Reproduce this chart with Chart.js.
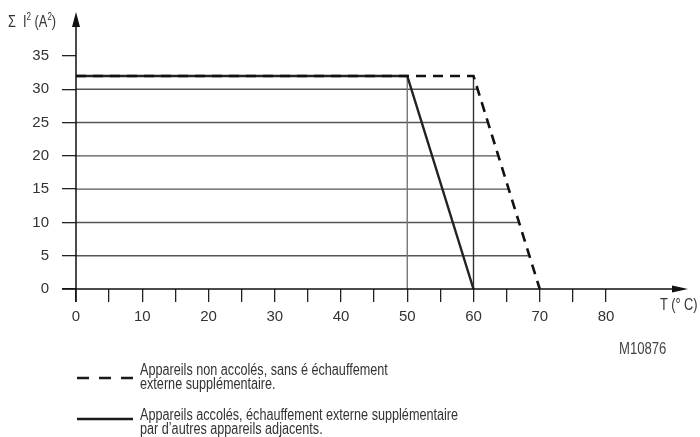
<!DOCTYPE html>
<html>
<head>
<meta charset="utf-8">
<script src="https://cdn.jsdelivr.net/npm/chart.js@4/dist/chart.umd.min.js"></script>
<style>
body{margin:0;background:#fff;}
#wrap{position:relative;width:700px;height:437px;font-family:"Liberation Sans Narrow","Liberation Sans",Arial,sans-serif;color:#333;}
#wrap canvas{position:absolute;left:0;top:0;}
.lbl{position:absolute;white-space:nowrap;font-size:16px;line-height:16px;transform:scaleX(0.8);transform-origin:0 0;}
.lbl sup{font-size:10px;vertical-align:7px;line-height:0;}
.leg{position:absolute;font-size:16px;line-height:15px;}
.leg svg{position:absolute;left:0;}
.leg div{position:absolute;left:63px;white-space:nowrap;transform:scaleX(0.79);transform-origin:0 0;}
</style>
</head>
<body>
<div id="wrap">
<canvas id="c" width="700" height="437"></canvas>
<div class="lbl" style="left:8px;top:14px;">Σ&nbsp;&nbsp;I<sup>2</sup> (A<sup>2</sup>)</div>
<div class="lbl" style="left:660px;top:297px;">T (° C)</div>
<div class="lbl" style="left:619px;top:341px;transform:scaleX(0.82);color:#444;">M10876</div>
<div class="leg" style="left:77px;top:362px;">
  <svg width="60" height="34" style="top:-1px"><line x1="0" y1="17" x2="56" y2="17" stroke="#1a1a1a" stroke-width="2.5" stroke-dasharray="12,10"/></svg>
  <div style="top:0">Appareils non accolés, sans é échauffement</div>
  <div style="top:14px">externe supplémentaire.</div>
</div>
<div class="leg" style="left:77px;top:407px;">
  <svg width="60" height="34" style="top:-5px"><line x1="0" y1="17" x2="56" y2="17" stroke="#1a1a1a" stroke-width="2.5"/></svg>
  <div style="top:0">Appareils accolés, échauffement externe supplémentaire</div>
  <div style="top:14px">par d’autres appareils adjacents.</div>
</div>
</div>
<script>
// T (°C) / sum I^2 (A^2)
const tempNonAccoles=[0,60,70];
const sumNonAccoles=[32,32,0];
const tempAccoles=[0,50,60];
const sumAccoles=[32,32,0];
const yTickValues=[0,5,10,15,20,25,30,35];
const xTickValues=[0,5,10,15,20,25,30,35,40,45,50,55,60,65,70,75,80];
const gridLevels=[5,10,15,20,25,30];
const guideTemps=[50,60];

function pts(xs,ys){return xs.map((x,i)=>({x:x,y:ys[i]}))}

// where the dashed curve reaches a given level (grid lines stop there)
function tempAt(level){
    for(let i=1;i<tempNonAccoles.length;i++){
        const y0=sumNonAccoles[i-1],y1=sumNonAccoles[i];
        if(y0!==y1&&level<=Math.max(y0,y1)&&level>=Math.min(y0,y1)){
            const x0=tempNonAccoles[i-1],x1=tempNonAccoles[i];
            return x0+(level-y0)*(x1-x0)/(y1-y0);
        }
    }
    return tempNonAccoles[tempNonAccoles.length-1];
}

const datasets=[
    {data:pts(tempNonAccoles,sumNonAccoles),borderColor:"#111",borderWidth:2.6,borderDash:[10,7]},
    {data:pts(tempAccoles,sumAccoles),borderColor:"#222",borderWidth:2.4}
];
guideTemps.forEach((t,i)=>{
    datasets.push({data:[{x:t,y:0},{x:t,y:sumAccoles[1]}],borderColor:i==0?"#777":"#333",borderWidth:1.4});
});
gridLevels.forEach(l=>{
    datasets.push({data:[{x:0,y:l},{x:tempAt(l),y:l}],borderColor:"#555",borderWidth:1.4});
});
datasets.forEach(d=>{d.showLine=true;d.pointRadius=0;d.fill=false;});

const axesPlugin={
    id:"axes",
    afterDraw(chart){
        const ctx=chart.ctx,a=chart.chartArea;
        ctx.save();
        ctx.strokeStyle="#111";ctx.fillStyle="#111";ctx.lineWidth=1.5;
        ctx.beginPath();
        ctx.moveTo(a.left-14,a.bottom);ctx.lineTo(676,a.bottom);
        ctx.moveTo(a.left,a.bottom+13);ctx.lineTo(a.left,24);
        ctx.stroke();
        ctx.beginPath();
        ctx.moveTo(688,a.bottom);ctx.lineTo(672,a.bottom-3.5);ctx.lineTo(672,a.bottom+3.5);ctx.closePath();
        ctx.fill();
        ctx.beginPath();
        ctx.moveTo(a.left,12);ctx.lineTo(a.left-4,27);ctx.lineTo(a.left+4,27);ctx.closePath();
        ctx.fill();
        ctx.restore();
    }
};

const tickFont={family:"'Liberation Sans Narrow','Liberation Sans',Arial,sans-serif",size:15};

new Chart(document.getElementById("c"),{
    type:"scatter",
    data:{datasets:datasets},
    options:{
        responsive:false,animation:false,events:[],
        layout:{padding:{left:0,top:56,right:94,bottom:0}},
        plugins:{legend:{display:false},tooltip:{enabled:false}},
        scales:{
            x:{
                type:"linear",min:0,max:80,
                afterBuildTicks:s=>{s.ticks=xTickValues.map(v=>({value:v}))},
                afterFit:s=>{s.height=148},
                border:{display:false},
                grid:{drawOnChartArea:false,drawTicks:true,tickLength:13,color:"#222",lineWidth:1.3},
                ticks:{color:"#333",font:tickFont,padding:6,maxRotation:0,autoSkip:false,
                    callback:v=>v%10===0?String(v):""}
            },
            y:{
                type:"linear",min:0,max:35,
                afterBuildTicks:s=>{s.ticks=yTickValues.map(v=>({value:v}))},
                afterFit:s=>{s.width=76},
                border:{display:false},
                grid:{drawOnChartArea:false,drawTicks:true,tickLength:14,color:"#222",lineWidth:1.3},
                ticks:{color:"#333",font:tickFont,padding:13,autoSkip:false}
            }
        }
    },
    plugins:[axesPlugin]
});
</script>
</body>
</html>
